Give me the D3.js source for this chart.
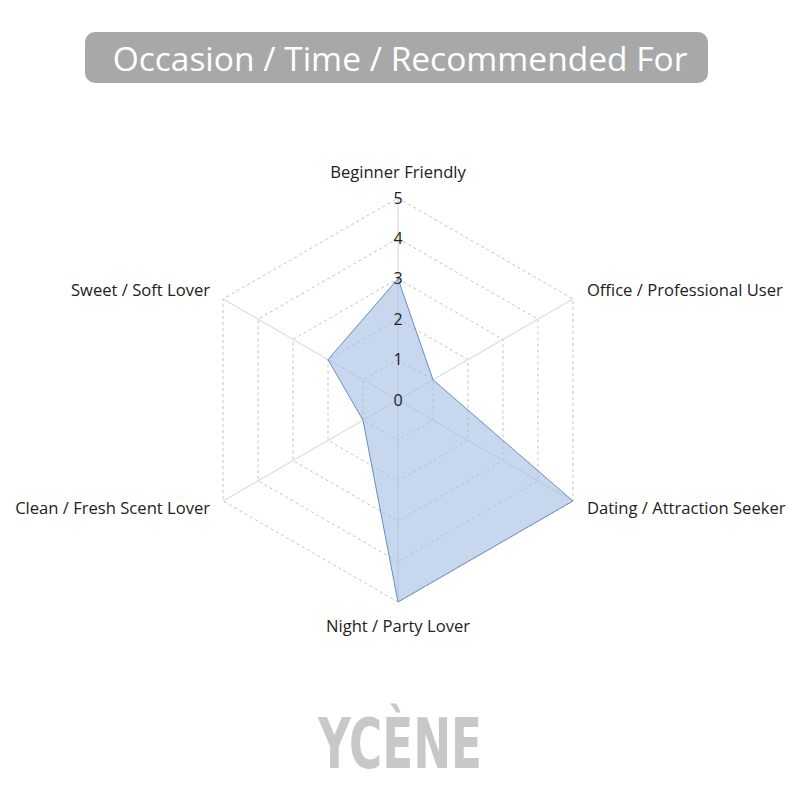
<!DOCTYPE html>
<html>
<head>
<meta charset="utf-8">
<script src="https://cdn.jsdelivr.net/npm/d3@7"></script>
<style>
  body { margin: 0; background: #fff; }
</style>
</head>
<body>
<svg id="chart" width="800" height="800"></svg>
<script>
// data
const categories = [
    "Beginner Friendly",
    "Office / Professional User",
    "Dating / Attraction Seeker",
    "Night / Party Lover",
    "Clean / Fresh Scent Lover",
    "Sweet / Soft Lover"
];
const values = [3, 1, 5, 5, 1, 2];
const tickValues = [0, 1, 2, 3, 4, 5];

const svg = d3.select("#chart");
const cx = 398, cy = 400, R = 202;

// title box
svg.append("rect")
    .attr("x", 85).attr("y", 32)
    .attr("width", 623).attr("height", 51)
    .attr("rx", 10)
    .attr("fill", "#a8a8a8");
svg.append("text")
    .attr("x", 400).attr("y", 71)
    .attr("text-anchor", "middle")
    .attr("fill", "#fff")
    .style("font-family", "Open Sans")
    .style("font-size", "33.5px")
    .text("Occasion / Time / Recommended For");

const r = d3.scaleLinear().domain([0, 5]).range([0, R]);
const angle = i => i * 2 * Math.PI / categories.length;
const pt = (i, v) => [cx + r(v) * Math.sin(angle(i)), cy - r(v) * Math.cos(angle(i))];

const g = svg.append("g");

// rings (dashed)
const line = d3.line();
g.selectAll(".ring")
    .data(tickValues.slice(1))
    .enter()
    .append("path")
    .attr("class", "ring")
    .attr("d", t => line(categories.map((c, i) => pt(i, t))) + "Z")
    .attr("fill", "none")
    .attr("stroke", "#c4c4c4")
    .attr("stroke-dasharray", "3,3");

// spokes
g.selectAll(".spoke")
    .data(categories)
    .enter()
    .append("line")
    .attr("x1", cx).attr("y1", cy)
    .attr("x2", (d, i) => pt(i, 5)[0])
    .attr("y2", (d, i) => pt(i, 5)[1])
    .attr("stroke", "#d4d4d4");

// data polygon
g.append("path")
    .attr("d", line(values.map((v, i) => pt(i, v))) + "Z")
    .attr("fill", "rgba(160,188,226,0.6)")
    .attr("stroke", "#6a8cc4")
    .attr("stroke-width", 1);

// tick labels
g.selectAll(".tick")
    .data(tickValues)
    .enter()
    .append("text")
    .attr("x", cx)
    .attr("y", t => cy - r(t))
    .attr("dy", "0.35em")
    .attr("text-anchor", "middle")
    .attr("fill", "#222")
    .style("font-family", "Open Sans")
    .style("font-size", "16px")
    .text(t => t);

// category labels
g.selectAll(".label")
    .data(categories)
    .enter()
    .append("text")
    .attr("x", (d, i) => {
        const [x] = pt(i, 5);
        if (i === 0 || i === 3) return x;
        return x < cx ? x - 13 : x + 14;
    })
    .attr("y", (d, i) => {
        const [, y] = pt(i, 5);
        if (i === 0) return y - 26;
        if (i === 3) return y + 24;
        return y < cy ? y - 9 : y + 7;
    })
    .attr("dy", "0.35em")
    .attr("text-anchor", (d, i) => {
        if (i === 0 || i === 3) return "middle";
        return pt(i, 5)[0] < cx ? "end" : "start";
    })
    .attr("fill", "#222")
    .style("font-family", "Open Sans")
    .style("font-size", "16.6px")
    .text(d => d);

// logo
svg.append("text")
    .attr("x", 400).attr("y", 768)
    .attr("text-anchor", "middle")
    .attr("fill", "#c8c8c8")
    .attr("textLength", 164)
    .attr("lengthAdjust", "spacingAndGlyphs")
    .style("font-family", "Liberation Sans Narrow, DejaVu Sans Condensed")
    .style("font-weight", "bold")
    .style("font-size", "70px")
    .text("YCÈNE");
</script>
</body>
</html>
